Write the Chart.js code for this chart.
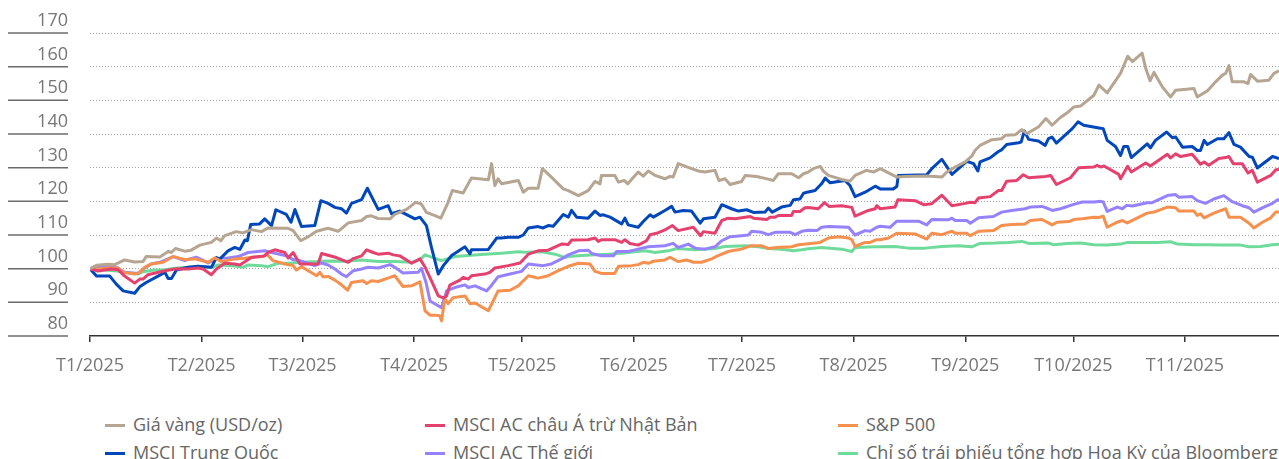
<!DOCTYPE html>
<html>
<head>
<meta charset="utf-8">
<script src="https://cdn.jsdelivr.net/npm/chart.js@4"></script>
<style>
html, body { margin: 0; padding: 0; background: #fff; overflow: hidden; }
#wrap { position: relative; width: 1279px; height: 459px; font-family: 'Open Sans', sans-serif; overflow: hidden; }
#box { position: absolute; left: 0; top: 0; }
.lg { position: absolute; font-size: 18px; color: #666; white-space: nowrap; line-height: 22px; }
.lg i { display: inline-block; width: 20px; height: 3px; vertical-align: middle; margin-right: 8px; position: relative; top: -1px; }
</style>
</head>
<body>
<div id="wrap">
  <canvas id="box" width="1279" height="400"></canvas>
  <div id="legend"></div>
</div>
<script>
// x values are days counted from 1 Jan 2025
const monthDays = [0, 31, 59, 90, 120, 151, 181, 212, 243, 273, 304];
const monthLabels = ['T1/2025', 'T2/2025', 'T3/2025', 'T4/2025', 'T5/2025', 'T6/2025',
  'T7/2025', 'T8/2025', 'T9/2025', 'T10/2025', 'T11/2025'];
const yTicks = [80, 90, 100, 110, 120, 130, 140, 150, 160, 170];

const seriesNames = ['Giá vàng (USD/oz)', 'MSCI AC châu Á trừ Nhật Bản', 'S&P 500',
  'MSCI Trung Quốc', 'MSCI AC Thế giới', 'Chỉ số trái phiếu tổng hợp Hoa Kỳ của Bloomberg'];
const seriesColors = ['#b5a591', '#e5416f', '#f5904f', '#0047bb', '#9682ff', '#6fdb9b'];

const goldDays = [0,1.8,5,6.9,9.6,12.4,14.7,15.6,19.4,21.7,22.6,23.7,26.3,28.1,30.5,33.7,35.1,36.3,37.4,40.6,
  42.5,44.8,47.6,49.4,55,56.4,58.5,60.6,62.9,66.1,68.9,71.7,75.4,76.8,78.1,80,83.3,84.6,87.9,90.4,
  92,93.4,95.6,97.4,99.3,100.6,103.6,105.9,110.6,111.5,112.4,113.3,114.3,118.9,120.3,121.7,124.4,125.6,128.1,131.4,
  132.8,135.6,138.3,140.2,141.6,142,145.7,146.7,148.3,149.3,152.2,153.6,155,156.9,159.6,161,161.9,163.3,167,168.9,
  170.7,173.5,174.6,176.3,177.7,180.9,181.9,185.1,188.3,189.7,191.1,194.8,196.7,198.1,199.4,200.8,202.7,203.6,205,208.7,
  211,212.4,215.6,217.5,219.4,224,226.3,232.3,236.5,237.9,240.2,243,244.8,245.7,247.1,250.4,253.1,254.1,256.9,258.7,
  260.1,263.3,265.4,267.1,269.4,271.3,273.1,275,278.7,280.1,282.4,286.1,288.1,289.4,292.1,293.1,294.3,295.4,297.7,300,
  301.4,303.7,306.5,307.4,310.2,312.5,314.4,315.3,316.2,317.1,320.4,321.5,322.2,324.1,327.3,328.7,330.1];
const goldValues = [100,101,101.3,101.2,102.6,102,102.1,103.6,103.5,105.1,104.8,106,105.2,105.5,107,107.8,109.1,108.3,109.8,111,
  110.6,111.6,111,112.1,112,111.3,108.3,109.5,111.1,112,111.1,113.6,114.3,115.5,115.7,114.9,114.8,116.1,117.6,119.7,
  119.2,116.7,115.8,115,119.4,123.2,122.5,126.9,126.4,131.2,124.7,126.7,125.2,126.2,122.7,123.9,123.9,129.7,127.2,123.7,
  123.2,121.7,123.2,125.9,125.2,127.7,127.7,125.7,126.2,125.2,128.7,127.5,129,127.7,126.7,127.4,127.2,131.2,129.7,129,
  128.7,129.2,126.2,126.7,125,125.9,127.7,127.4,126.6,126.2,128.2,128.2,127,128.2,128.7,129.7,130.4,129,127.7,126.5,
  126,127.7,129.2,128.7,129.7,127.2,127.4,127.5,127.2,128.7,130.2,131.7,133.4,135.1,136.6,138.3,138.6,139.6,139.8,141.3,
  140.1,142.1,144.6,142.6,144.9,146.3,148,148.3,151.5,154.5,152.2,158,163.1,161.5,164,159.5,155.8,158.3,154,151,
  153,153.2,153.5,151,152.8,155.5,157.5,158,160.3,155.5,155.5,155,157.7,155.7,156,158,158.8];

const asiaDays = [0,2.2,5.9,7.8,9.6,12.4,13.8,14.7,16.1,20.8,24,27.2,30,31.4,33.7,35.1,37.4,40.2,41.6,44.8,
  48.5,49.4,51.3,54.1,55,56.4,58.3,63.3,64.3,66.1,68.4,71.7,73.1,75.4,76.8,78.6,80,82.8,84.2,86,
  89.3,91.6,93,94.8,96.7,98.1,99,99.9,102.7,103.6,105,105.9,109.6,111,112.4,116.1,119.4,121.7,124.4,127.2,
  130.9,132.8,133.7,138.3,140.2,141.1,142,145.7,147.6,148.5,149.9,152.2,154.5,155.5,157.3,159.6,161.7,163.3,167.5,169.5,
  170.3,173.5,175.4,177.2,179.1,183.3,184.2,187.9,188.8,190.2,191.1,194.8,195.3,197.1,198.5,199.4,202.2,203.9,205.2,208.7,
  211.5,212.4,216.1,218,218.4,219.4,223.5,224.3,229.1,231.4,233.7,236.5,239.3,243,244.4,245.7,246.7,249.9,252.2,253.1,
  254.5,257.3,259.1,260.6,265.2,266.7,268.3,272.2,274.5,278.7,279.6,280.6,281.5,285.6,286.1,288.1,289.1,293.1,294.4,299.1,
  300,301.4,302.8,306,308.3,309.3,310.6,313.4,315.3,316.2,317.4,319.9,321.5,322.7,324.1,327.8,329.2,330.3];
const asiaValues = [100,99.3,99.9,99.7,97.8,95.7,96.9,96.9,98.2,99.4,100,99.9,100.2,99.9,98.2,99.9,101.6,101.4,101.1,103.3,
  103.8,104.8,105.6,104.8,103.2,104.8,101.4,101.4,104.5,104,103.3,101.9,103,103.8,105.6,104.8,104.3,104.6,104.1,103.8,
  101.6,102.9,100.5,96.4,91.9,91.3,91.9,95.1,96.6,97.4,96.9,97.9,98.4,98.9,100.2,100.9,101.7,104.3,105.3,105.5,
  107.3,107.2,108.5,108.6,109.1,108.1,108.6,108.6,107.8,108.6,107.5,107,108.3,110.1,110.5,111.5,112.8,111.3,112.3,109.8,
  111,110.5,114.3,115,114.8,115.5,115,114.6,115.3,115.3,115.8,115.8,117,117,118.1,118.2,117.8,119.6,118.5,118.7,
  118.2,115.6,117.3,117.8,118.7,117.8,118.3,120.5,120.2,119,119.3,121.8,118.7,119.4,119.7,119.6,121,121.4,123.2,123.2,
  126,126.2,127.9,127,127.4,127.7,125,127,130,130.2,130.7,130.2,130.5,128,126.7,130.4,128.7,131.4,130.5,134,
  132.9,134.1,133.3,134,131,131.7,130.7,132.7,133,133.3,131.2,131.2,128.4,129.2,125.7,127.7,129.4,129.5];

const spxDays = [0,2.2,5,7.8,9.2,12.4,13.8,15.2,17,20.3,23.1,26.3,29.1,32.8,34.6,36.5,40.2,43,44.8,48.1,
  49,50.8,54.1,56.4,57.3,58.7,60.6,62.9,63.8,64.7,66.1,68,69.8,71.5,72.6,75.8,76.8,78.1,80,83.3,
  84.6,86.9,89.3,91.6,93,94.4,95.7,97.1,97.6,98.5,99.4,100.8,104.1,105.5,106.9,110.6,113.3,116.6,118.9,121.7,
  124.4,127.2,130,132.8,135.6,138.8,140.2,142,145.7,146.7,150.4,152.2,153.6,155,156.4,159.6,161,163.3,165.6,167.5,
  169.8,172.6,174.4,177.2,179.1,180.9,183.3,186.5,188.3,190.6,194.8,196.7,199.4,202.7,205,207.8,210.6,211.5,212.4,215.2,
  216.6,218.4,219.4,221.7,224,229.1,232.3,233.7,236.5,239.3,240.2,243.4,244.4,246.7,250.8,253.1,255.9,259.6,261,264.3,
  266.1,267.1,268.5,271.8,273.1,275.5,278.7,280.1,281.3,282.4,285.2,286.6,288,293.5,295.4,299.1,301.4,302.3,306.5,307.4,
  308.3,309.3,312,315.3,316.2,319.4,321.8,323.1,325.5,327.8,329.2,330.3];
const spxValues = [100,99.9,100.2,100.2,98.9,98.4,98.9,100.4,101.4,101.9,103.6,102.7,102.9,101.9,103.2,102.1,102.9,103.1,103.4,103.6,
  104.4,102.4,101.4,100.9,99.6,100.6,99.4,97.9,98.9,97.6,97.7,96.6,95.2,93.6,95.9,96.4,95.6,96.4,96.2,97.4,
  97.9,94.7,94.9,96.1,87.5,86.2,86.2,86,84.5,91,89.6,91.4,91.9,89.6,89.8,87.5,93.4,93.6,94.9,97.9,
  97.2,97.9,99.4,100.7,101.6,101.4,99.2,98.6,98.6,100.7,100.9,101.2,101.9,101.6,102.2,102.6,103.4,102.1,102.6,101.9,
  101.9,102.9,103.9,105.1,105.5,105.8,106.8,106.8,106,106.3,106.5,107.1,107.4,107.8,109.1,109.5,109.1,108.6,106.6,107.8,
  107.8,108.6,108.6,109.1,110.5,110.3,108.8,110.5,110.1,111.1,110.5,110.5,109.8,111.1,111.3,112.8,113.1,113.3,114.3,114.6,
  113.6,113,113.8,114,114.6,114.8,115.3,115.2,115.6,112.3,113.8,114.3,113.6,116.5,116.8,118.3,118.1,117.1,117.1,115.8,
  116.3,115.1,116.5,117.8,115.3,115.3,113.5,112.1,113.8,115.1,116.8,116.8];

const chinaDays = [0,1.8,5.5,7.3,9.2,12.4,13.8,15.6,20.8,21.7,22.6,24,27.2,30,33.7,35.1,36,38.3,40.2,41.6,
  43,43.7,44.6,47.1,48.5,50.4,51.6,54.5,55.8,56.9,58.7,62.4,64.1,66.1,68,69.8,71.2,72.6,75.4,77,
  80,82.8,83.7,86,90.2,91.6,93.4,94.8,96.7,98.1,100.4,104.1,105.5,105.9,110.6,112.9,114.2,116.1,118.9,120.3,
  121.7,124.4,125.8,127.2,128.6,131.4,132.8,133.7,135.1,138.3,140.2,141.6,142.5,144.4,147.6,148.5,149.4,152.2,153.6,155.5,
  156.4,159.6,161.5,162.4,164.7,167,169.4,170.3,173.5,175.4,178.1,180,182.3,184.2,187.4,188.3,189.4,192,194.4,195.3,
  197.1,198.1,199.4,201.3,203.1,204.1,205.5,209.6,211,212.4,215.2,218,219.4,223,224,224.4,232.3,233.7,236.5,239.3,
  243.4,245.3,246.5,247.1,249.9,252.2,253.1,254.5,257.8,258.5,259.4,260.6,263.3,265.2,266.1,267.1,268.3,272.7,274.3,275.9,
  280.1,281.3,282.4,284.7,286.1,287,288.1,289.1,293.5,294.4,295.8,298.9,300.5,301.4,303.3,306,307.4,308.3,309.3,310.2,
  313,314.8,316.2,317.6,319.4,321.8,322.7,324.1,328.3,330.1];
const chinaValues = [100,97.8,97.8,95.4,93.4,92.7,94.6,95.9,98.9,97.1,97.1,99.6,100.4,100.7,100.4,103.3,102.8,105.3,106.3,105.7,
  108.5,108.3,113.1,113.3,114.8,112.8,117.5,116.1,113.8,117.6,112.5,112.8,120.2,119.4,118.2,117.8,116.5,119.4,120.5,123.9,
  117.6,118.7,116.3,117.1,114.8,115.3,112.8,106.3,98.4,100.9,103.9,106.5,104.4,105.6,105.7,109.1,109.1,109.3,109.3,110,
  112.1,112.5,112.1,112.8,112.6,116.1,115.3,117.3,115.3,115,117.1,115.8,116,115.3,113.3,115,113,112.3,114,116,
  115.3,117.3,118.5,116.8,117.3,117.1,113.5,114.8,115.3,119,117.8,117.1,117.5,116.7,116.8,118,116.8,118.3,118.8,120.5,
  120.7,122.4,122.8,123.2,125.2,126.9,125.5,126.2,124.7,121.4,122.7,124.5,123.7,123.7,124.4,127.7,127.9,129.7,132.5,128,
  131.9,131.2,129,131.7,132.9,134.8,135.3,136.9,137.4,137.6,140.9,138.4,137.9,136.6,138.6,139.1,137.3,141.6,143.6,142.6,
  141.8,141.6,138.1,136.3,133.6,136.3,136.3,133,137.1,135.9,138.1,140.6,138.9,139.1,136.1,136.3,135.1,135.1,138.1,136.9,
  138.6,138.6,140.4,136.9,136.1,133.3,133.1,129.9,133.3,132.7];

const worldDays = [0,2.2,5.5,7.8,9.6,13.3,15.2,17,19.4,23.1,26.3,27.7,29.5,32.8,35.6,38.3,41.1,43.9,48.5,50.8,
  54.5,56.4,58.3,62.4,64.3,66.1,68,69.8,71.2,73.1,75.4,77.2,80,83.3,84.6,86.9,91.1,92,93.3,94.4,
  97.6,99,101.3,104.1,105,106.9,110.1,111.5,113.3,116.6,119.8,121.7,125.8,128.1,130.9,132.8,135.6,138.3,139.3,142,
  145.3,146.2,149.4,152.2,155,159.6,161.9,163.3,166.1,168,170.7,173.5,175.4,177.7,180.9,182.8,183.7,186.5,188.3,190.2,
  194.4,195.8,197.6,199.4,201.8,203.1,205,210.6,212.4,215.2,216.6,218.4,219.4,222.1,224,230,232.3,233.7,238.3,239.3,
  240.2,243.4,244.4,246.7,250.8,253.1,255.9,259.6,261,264.3,266.1,267.1,269.4,273.1,275.5,278.7,280.6,281.3,282.4,285.2,
  286.6,287.8,289.4,293.5,294.9,299.1,301.4,302.3,306,307.4,309.7,312,314.8,317.1,319.9,321.8,323.1,325.9,328.3,329.6,330.3];
const worldValues = [100,100.4,100.9,100.2,98.9,98.6,100.2,101.4,101.9,103.6,102.4,102.9,103.4,101.7,103.1,103.2,103.6,104.8,105.3,104.7,
  103.8,102.7,102.4,100.9,101.7,101.1,99.9,98.4,97.6,99.4,99.9,100.4,100.2,101.2,100.4,98.7,98.9,100.1,95.9,90.4,
  88.4,93.4,94.4,95.2,94.4,94.9,93.4,95.1,97.6,98.4,99.2,101.4,100.9,101.4,102.9,104.1,105.3,105.5,104.5,103.8,
  103.8,105.1,105.1,105.8,106.5,106.8,107.5,106.3,107.3,106.1,105.8,106.5,108.3,109.5,109.8,110,111.1,110.8,110.1,110.8,
  110.8,110.1,111.1,111.4,111.3,112.3,112.5,112.3,110,111.3,111.1,112.3,112.6,112.3,114.1,114.1,113,114.6,114.5,115,
  114.3,114.3,113.5,115.1,115.5,116.8,117.3,117.8,118.3,118.5,117.8,117.3,117.8,119.1,119.8,119.8,120,119.8,117,118.3,
  117.8,118.8,118.6,119.6,119.6,121.7,122,121.2,121.4,120.2,119.4,120.7,121.7,119.9,118.7,118.1,116.8,118.3,119.4,120.4,120.5];

const bondDays = [0,3.1,6.9,9.6,13.3,14.7,17.9,20.8,23.5,27.2,30.9,33.7,35.6,40.2,42.5,43.9,47.6,49.4,52.2,55,
  58.7,63.3,66.1,70.7,75.4,80,84.6,89.3,91.6,93,97.6,101.3,105,109.6,114.3,118.9,120.8,125.4,129.1,131.9,
  132.8,136.5,140.2,143.9,147.6,151.3,154.1,156.9,160.6,162.9,168,173.5,176.3,181.9,185.6,188.3,192,195.3,197.6,199.4,
  203.1,208.7,211.5,212.4,218,223.5,227.2,231.9,236.5,241.1,244.8,247.1,251.3,255,258.7,260.6,266.1,267.6,271.3,275,
  278.7,282.4,286.1,288,291.7,296.4,300,301.9,306.5,310.2,313.9,319.4,321.8,325,328.2,330.3];
const bondValues = [100,99.7,99.4,98.9,98.4,99.1,99.6,99.7,100.1,100.4,100.4,100.4,101.1,100.8,100.4,101.1,100.9,100.6,101.6,101.6,
  101.9,102.1,102.3,102.2,102.6,102.1,102.1,101.9,102.6,104.1,102.4,103.6,103.9,104.3,104.6,105,104.9,105,104.3,103.3,
  103.6,103.9,104.1,104.3,104.6,105,105.3,104.8,105.3,106,105.6,106,106.6,106.8,106.5,106,105.8,105.3,105.6,105.9,
  106.3,105.8,105.1,106.3,106.5,106.6,106.1,106.1,106.6,106.8,106.5,107.5,107.6,107.8,108.1,107.5,107.6,107.1,107.5,107.6,
  107.1,107,107.3,107.8,107.8,107.8,108,107.3,107.1,107.1,107,107,106.5,106.6,107.1,107.3];

const seriesDays = [goldDays, asiaDays, spxDays, chinaDays, worldDays, bondDays];
const seriesValues = [goldValues, asiaValues, spxValues, chinaValues, worldValues, bondValues];

const FONT = "'Open Sans', sans-serif";

// legend (3 columns, 2 rows)
const legendCols = [105, 425, 838];
const legendRows = [413, 441];
const legendEl = document.getElementById('legend');
seriesNames.forEach((name, i) => {
  const d = document.createElement('div');
  d.className = 'lg';
  d.style.left = legendCols[i % 3] + 'px';
  d.style.top = legendRows[Math.floor(i / 3)] + 'px';
  d.innerHTML = '<i style="background:' + seriesColors[i] + '"></i>' + name;
  legendEl.appendChild(d);
});

// short rules under the y labels
const underlines = {
  id: 'underlines',
  afterDraw(chart) {
    const y = chart.scales.y;
    const c = chart.ctx;
    c.save();
    c.strokeStyle = '#6b6b6b';
    c.lineWidth = 1.5;
    y.ticks.forEach(t => {
      const py = y.getPixelForValue(t.value);
      c.beginPath();
      c.moveTo(8, py);
      c.lineTo(68, py);
      c.stroke();
    });
    c.restore();
  }
};

new Chart(document.getElementById('box'), {
  type: 'line',
  data: {
    datasets: seriesNames.map((name, i) => ({
      label: name,
      data: seriesDays[i].map((d, j) => ({ x: d, y: seriesValues[i][j] })),
      borderColor: seriesColors[i],
      backgroundColor: seriesColors[i],
      borderWidth: 3,
      pointRadius: 0,
      tension: 0,
      borderJoinStyle: 'round',
      fill: false
    }))
  },
  options: {
    responsive: false,
    animation: false,
    devicePixelRatio: 1,
    layout: { padding: { top: 33, left: 0, right: 0, bottom: 0 } },
    plugins: { legend: { display: false }, tooltip: { enabled: false } },
    scales: {
      x: {
        type: 'linear',
        min: 0,
        max: goldDays[goldDays.length - 1],
        afterBuildTicks: s => { s.ticks = monthDays.map(v => ({ value: v })); },
        afterFit: s => { s.height = 64; },
        ticks: {
          autoSkip: false,
          maxRotation: 0,
          padding: 13,
          color: '#777',
          font: { family: FONT, size: 18 },
          callback: v => monthLabels[monthDays.indexOf(v)]
        },
        grid: { drawOnChartArea: false, drawTicks: true, tickLength: 6, color: '#333', lineWidth: 1.5 },
        border: { color: '#333', width: 1.5 }
      },
      y: {
        min: 80,
        max: 170,
        afterBuildTicks: s => { s.ticks = yTicks.map(v => ({ value: v })); },
        afterFit: s => { s.width = 90; },
        ticks: {
          padding: 22,
          labelOffset: -12,
          color: '#777',
          font: { family: FONT, size: 18 }
        },
        grid: {
          drawTicks: false,
          lineWidth: 1,
          color: c => (c.tick && c.tick.value === 80) ? 'rgba(0,0,0,0)' : '#a3a3a3'
        },
        border: { display: false, dash: [1, 2] }
      }
    }
  },
  plugins: [underlines]
});
</script>
</body>
</html>
